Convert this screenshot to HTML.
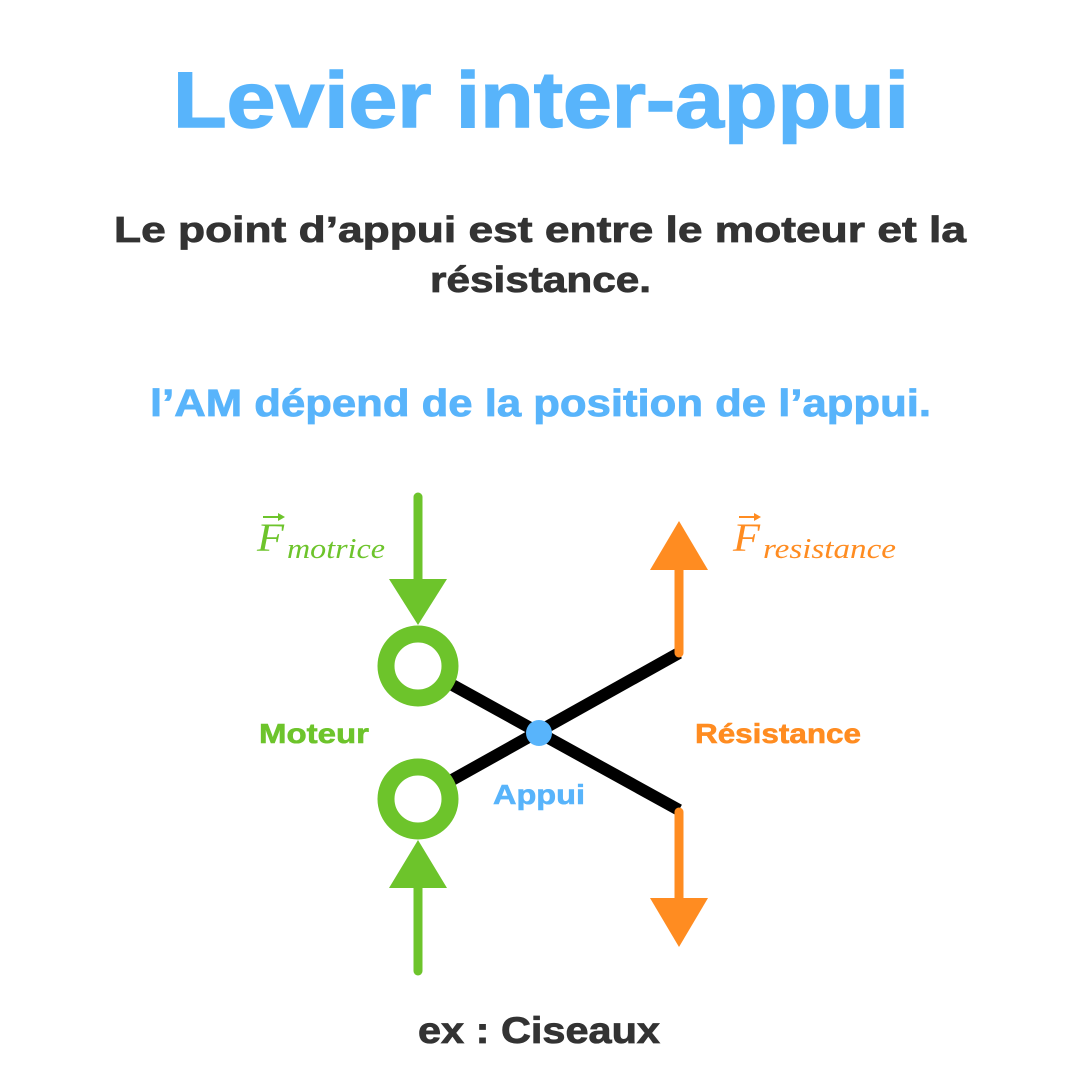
<!DOCTYPE html>
<html>
<head>
<meta charset="utf-8">
<style>
  html, body { margin:0; padding:0; background:#ffffff; }
  body { width:1080px; height:1080px; overflow:hidden; }
  svg { display:block; }
  .sans { font-family:"Liberation Sans", "DejaVu Sans", sans-serif; font-weight:bold; }
  .serif { font-family:"Liberation Serif", "DejaVu Serif", serif; font-style:italic; }
</style>
</head>
<body>
<svg width="1080" height="1080" viewBox="0 0 1080 1080" xmlns="http://www.w3.org/2000/svg">
  <rect width="1080" height="1080" fill="#ffffff"/>

  <!-- Title -->
  <text class="sans" x="173" y="127" font-size="79" fill="#58B4FB" stroke="#58B4FB" stroke-width="1.5" textLength="736" lengthAdjust="spacingAndGlyphs">Levier inter-appui</text>

  <!-- Subtitle -->
  <text class="sans" x="114" y="242" font-size="36" fill="#333333" stroke="#333333" stroke-width="0.8" textLength="852" lengthAdjust="spacingAndGlyphs">Le point d’appui est entre le moteur et la</text>
  <text class="sans" x="430" y="292" font-size="36" fill="#333333" stroke="#333333" stroke-width="0.8" textLength="221" lengthAdjust="spacingAndGlyphs">résistance.</text>

  <!-- Blue line -->
  <text class="sans" x="150" y="416" font-size="38" fill="#58B4FB" stroke="#58B4FB" stroke-width="0.8" textLength="781" lengthAdjust="spacingAndGlyphs">l’AM dépend de la position de l’appui.</text>

  <!-- Black lever lines -->
  <line x1="418" y1="666" x2="679" y2="810" stroke="#000000" stroke-width="12"/>
  <line x1="418" y1="799" x2="679" y2="653" stroke="#000000" stroke-width="12"/>

  <!-- Green top arrow -->
  <line x1="418" y1="497" x2="418" y2="582" stroke="#6DC42B" stroke-width="9" stroke-linecap="round"/>
  <polygon points="389,579 447,579 418,625" fill="#6DC42B"/>
  <!-- Green rings -->
  <circle cx="418" cy="666" r="32" fill="#ffffff" stroke="#6DC42B" stroke-width="17"/>
  <circle cx="418" cy="799" r="32" fill="#ffffff" stroke="#6DC42B" stroke-width="17"/>
  <!-- Green bottom arrow -->
  <polygon points="418,840 389,888 447,888" fill="#6DC42B"/>
  <line x1="418" y1="885" x2="418" y2="971" stroke="#6DC42B" stroke-width="9" stroke-linecap="round"/>

  <!-- Orange top arrow -->
  <line x1="679" y1="653" x2="679" y2="567" stroke="#FF8C21" stroke-width="9" stroke-linecap="round"/>
  <polygon points="650,570 708,570 679,521" fill="#FF8C21"/>
  <!-- Orange bottom arrow -->
  <line x1="679" y1="812" x2="679" y2="901" stroke="#FF8C21" stroke-width="9" stroke-linecap="round"/>
  <polygon points="650,898 708,898 679,947" fill="#FF8C21"/>

  <!-- Blue pivot -->
  <circle cx="539" cy="733" r="13" fill="#58B4FB"/>

  <!-- F motrice -->
  <g fill="#6DC42B">
    <text class="serif" x="257" y="551" font-size="40" textLength="27" lengthAdjust="spacingAndGlyphs">F</text>
    <line x1="263" y1="517" x2="281" y2="517" stroke="#6DC42B" stroke-width="2"/>
    <polygon points="285,517 278,513 278,521"/>
    <text class="serif" x="287" y="558" font-size="28" textLength="98" lengthAdjust="spacingAndGlyphs">motrice</text>
  </g>

  <!-- F resistance -->
  <g fill="#FF8C21">
    <text class="serif" x="733" y="551" font-size="40" textLength="27" lengthAdjust="spacingAndGlyphs">F</text>
    <line x1="739" y1="517" x2="757" y2="517" stroke="#FF8C21" stroke-width="2"/>
    <polygon points="761,517 754,513 754,521"/>
    <text class="serif" x="763" y="558" font-size="28" textLength="133" lengthAdjust="spacingAndGlyphs">resistance</text>
  </g>

  <!-- Labels -->
  <text class="sans" x="259" y="743" font-size="28" fill="#6DC42B" stroke="#6DC42B" stroke-width="0.6" textLength="110" lengthAdjust="spacingAndGlyphs">Moteur</text>
  <text class="sans" x="695" y="743" font-size="28" fill="#FF8C21" stroke="#FF8C21" stroke-width="0.6" textLength="166" lengthAdjust="spacingAndGlyphs">Résistance</text>
  <text class="sans" x="493" y="804" font-size="28" fill="#58B4FB" stroke="#58B4FB" stroke-width="0.6" textLength="92" lengthAdjust="spacingAndGlyphs">Appui</text>

  <!-- Example -->
  <text class="sans" x="418" y="1043" font-size="37" fill="#333333" stroke="#333333" stroke-width="0.8" textLength="242" lengthAdjust="spacingAndGlyphs">ex : Ciseaux</text>
</svg>
</body>
</html>
